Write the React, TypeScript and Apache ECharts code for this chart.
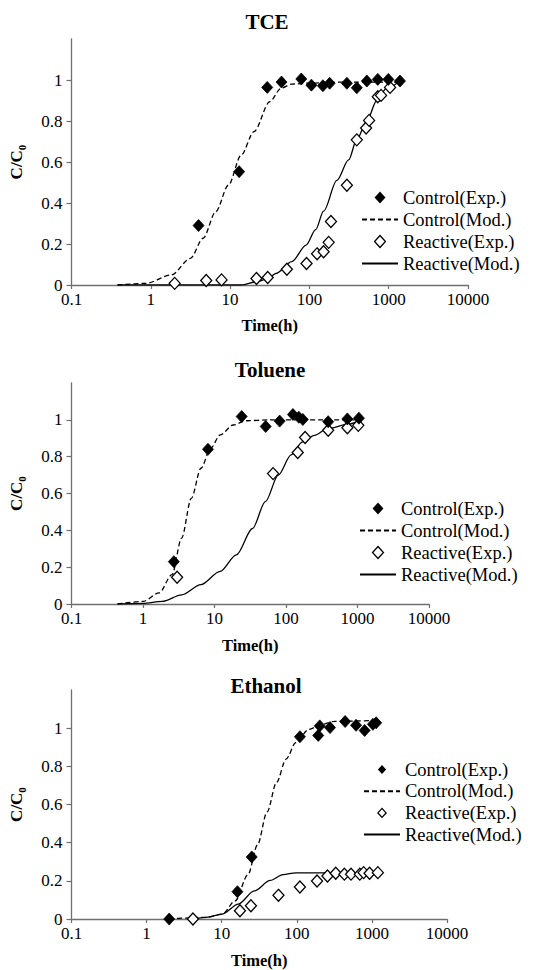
import React, { useEffect, useRef } from "react";
import * as echarts from "echarts";

// ---------- data ----------
const xTicks = [0.1, 1, 10, 100, 1000, 10000];
const yTicks = [0, 0.2, 0.4, 0.6, 0.8, 1];
const panelTitles = ["TCE", "Toluene", "Ethanol"];
const seriesNames = ["Control(Exp.)", "Control(Mod.)", "Reactive(Exp.)", "Reactive(Mod.)"];

// TCE
const tceCtrlExp = [[4.0, 0.29], [13, 0.553], [29.4, 0.964], [44.5, 0.99], [79, 1.005], [106, 0.975], [148, 0.972], [180, 0.984], [297, 0.984], [396, 0.962], [530, 0.995], [728, 1.003], [990, 1.003], [1387, 0.995]];
const tceCtrlMod = [[0.38, 0], [0.87, 0.008], [1.82, 0.049], [3.16, 0.13], [4.57, 0.228], [6.6, 0.358], [9.55, 0.488], [13.8, 0.634], [20, 0.748], [31.6, 0.894], [44, 0.96], [60, 0.98], [100, 0.985], [300, 0.99], [1400, 0.99]];
const tceReactExp = [[2.0, 0.008], [5.0, 0.022], [7.8, 0.025], [21.5, 0.032], [29.8, 0.037], [52, 0.077], [92, 0.105], [125, 0.152], [151, 0.162], [175, 0.208], [187, 0.31], [297, 0.487], [396, 0.708], [519, 0.766], [566, 0.803], [728, 0.918], [801, 0.925], [1040, 0.964]];
const tceReactMod = [[0.38, 0], [13.8, 0], [21.6, 0.016], [29.4, 0.03], [38, 0.057], [60, 0.114], [91, 0.195], [120, 0.27], [151, 0.36], [222, 0.51], [312, 0.61], [396, 0.71], [530, 0.8], [707, 0.9], [943, 0.96], [1387, 0.995]];

// Toluene
const tolCtrlExp = [[2.7, 0.23], [8.1, 0.84], [24, 1.018], [52, 0.964], [81.5, 0.993], [125, 1.029], [151, 1.014], [172, 1.002], [389, 0.99], [722, 1.005], [1047, 1.009]];
const tolCtrlMod = [[0.44, 0], [1, 0.014], [1.68, 0.06], [2.54, 0.159], [3.47, 0.358], [4.74, 0.574], [6.46, 0.737], [8.83, 0.845], [12, 0.918], [18.3, 0.972], [27.5, 0.995], [60, 1.0], [1047, 1.0]];
const tolReactExp = [[3.0, 0.145], [66, 0.708], [146, 0.823], [185, 0.904], [389, 0.943], [722, 0.957], [1026, 0.97]];
const tolReactMod = [[0.44, 0], [1, 0.003], [1.86, 0.014], [3.47, 0.05], [6.46, 0.105], [12, 0.177], [20.2, 0.267], [34, 0.41], [51.5, 0.556], [78, 0.7], [118, 0.81], [170, 0.88], [250, 0.916], [380, 0.952], [722, 0.975], [1047, 0.996]];

// Ethanol
const ethCtrlExp = [[2.0, 0], [16.2, 0.143], [25.1, 0.325], [110, 0.955], [193, 0.962], [202, 1.012], [277, 1.003], [440, 1.035], [615, 1.015], [800, 0.988], [1031, 1.02], [1140, 1.028]];
const ethCtrlMod = [[2, 0], [6.25, 0.009], [10.2, 0.026], [15.1, 0.095], [22.4, 0.233], [30, 0.389], [40.2, 0.561], [53.9, 0.717], [72, 0.838], [97, 0.924], [144, 0.993], [213, 1.019], [315, 1.036], [1150, 1.04]];
const ethReactExp = [[4.14, 0], [17.5, 0.043], [24.5, 0.069], [57, 0.124], [110, 0.168], [186, 0.199], [256, 0.225], [330, 0.24], [430, 0.235], [527, 0.235], [690, 0.235], [776, 0.243], [931, 0.24], [1200, 0.243]];
const ethReactMod = [[4.1, 0], [6.25, 0.009], [10.2, 0.026], [16.6, 0.078], [27.2, 0.147], [44.3, 0.202], [65.6, 0.233], [97, 0.242], [260, 0.242]];

const panelData = [
  [tceCtrlExp, tceCtrlMod, tceReactExp, tceReactMod],
  [tolCtrlExp, tolCtrlMod, tolReactExp, tolReactMod],
  [ethCtrlExp, ethCtrlMod, ethReactExp, ethReactMod],
];

// ---------- layout ----------
const FONT = "'Liberation Serif', 'DejaVu Serif', 'Times New Roman', serif";
const DIAMOND = "path://M0,-11L10,0L0,11L-10,0Z";
const grids = [
  { left: 71, top: 39, width: 397, height: 246 },
  { left: 69, top: 383, width: 360, height: 221 },
  { left: 70, top: 690, width: 377, height: 232 },
];
const titleCenters = [
  { x: 267, top: 11 },
  { x: 270, top: 359 },
  { x: 266, top: 675 },
];
const legendPos = [
  { left: 361, top: 188, gap: 3, diamond: 12 },
  { left: 359, top: 499, gap: 3, diamond: 12 },
  { left: 363, top: 760, gap: 2.7, diamond: 9 },
];
const xNameGaps = [32, 33, 33];
const AXIS_COLOR = "#6f6f6f";

export default function App() {
  const ref = useRef<HTMLDivElement>(null);
  useEffect(() => {
    document.body.style.margin = "0";
    const chart = echarts.init(ref.current!, null, { renderer: "svg" });

    const xAxis: any[] = [];
    const yAxis: any[] = [];
    const series: any[] = [];
    const title: any[] = [];
    const legend: any[] = [];

    grids.forEach((g, i) => {
      title.push({
        text: panelTitles[i],
        left: titleCenters[i].x,
        top: titleCenters[i].top,
        textAlign: "center",
        padding: 0,
        textStyle: { fontFamily: FONT, fontWeight: "bold", fontSize: 21, color: "#000" },
      });
      xAxis.push({
        type: "log",
        logBase: 10,
        gridIndex: i,
        min: xTicks[0],
        max: xTicks[xTicks.length - 1],
        name: "Time(h)",
        nameLocation: "middle",
        nameGap: xNameGaps[i],
        nameTextStyle: { fontFamily: FONT, fontWeight: "bold", fontSize: 16.5, color: "#000" },
        axisLine: { show: true, lineStyle: { color: AXIS_COLOR, width: 1.3 } },
        axisTick: { show: true, length: 4, inside: false, lineStyle: { color: AXIS_COLOR, width: 1.2 } },
        minorTick: { show: false },
        splitLine: { show: false },
        axisLabel: {
          fontFamily: FONT,
          fontWeight: "normal",
          fontSize: 17,
          color: "#000",
          margin: 6,
          formatter: (v: number) => String(+Number(v).toPrecision(6)),
        },
      });
      yAxis.push({
        type: "value",
        gridIndex: i,
        min: 0,
        max: 1.2,
        interval: 0.2,
        name: "{a|C/C}{b|0}",
        nameLocation: "middle",
        nameRotate: 90,
        nameGap: 44,
        nameTextStyle: {
          fontFamily: FONT,
          rich: {
            a: { fontFamily: FONT, fontWeight: "bold", fontSize: 17, color: "#000", lineHeight: 22 },
            b: { fontFamily: FONT, fontWeight: "bold", fontSize: 11, color: "#000", lineHeight: 12, verticalAlign: "bottom" },
          },
        },
        axisLine: { show: true, lineStyle: { color: AXIS_COLOR, width: 1.3 } },
        axisTick: { show: true, length: 5, customValues: yTicks, lineStyle: { color: AXIS_COLOR, width: 1.2 } },
        splitLine: { show: false },
        axisLabel: {
          fontFamily: FONT,
          fontWeight: "normal",
          fontSize: 17,
          color: "#000",
          margin: 9,
          customValues: yTicks,
          formatter: (v: number) => (v > 1.05 ? "" : String(+Number(v).toFixed(1))),
        },
      });
      const d = panelData[i];
      series.push(
        {
          type: "line",
          name: seriesNames[1],
          xAxisIndex: i,
          yAxisIndex: i,
          data: d[1],
          smooth: 0.3,
          smoothMonotone: "x",
          symbol: "none",
          lineStyle: { color: "#000", width: 1.3, type: [5, 3] },
          itemStyle: { color: "#000" },
          z: 2,
        },
        {
          type: "line",
          name: seriesNames[3],
          xAxisIndex: i,
          yAxisIndex: i,
          data: d[3],
          smooth: 0.3,
          smoothMonotone: "x",
          symbol: "none",
          lineStyle: { color: "#000", width: 1.3, type: "solid" },
          itemStyle: { color: "#000" },
          z: 2,
        },
        {
          type: "scatter",
          name: seriesNames[0],
          xAxisIndex: i,
          yAxisIndex: i,
          data: d[0],
          symbol: "diamond",
          symbolSize: [11, 12],
          itemStyle: { color: "#000", borderColor: "#000", borderWidth: 0.8, opacity: 1 },
          z: 4,
        },
        {
          type: "scatter",
          name: seriesNames[2],
          xAxisIndex: i,
          yAxisIndex: i,
          data: d[2],
          symbol: "diamond",
          symbolSize: [11, 12],
          itemStyle: { color: "#fff", borderColor: "#000", borderWidth: 1.3, opacity: 1 },
          z: 3,
        }
      );
      const lp = legendPos[i];
      legend.push({
        orient: "vertical",
        left: lp.left,
        top: lp.top,
        padding: 0,
        itemGap: lp.gap,
        itemWidth: 36,
        itemHeight: lp.diamond,
        symbolKeepAspect: true,
        selectedMode: false,
        data: seriesNames.map((n, k) =>
          k === 0
            ? { name: n, icon: DIAMOND, itemStyle: { color: "#000", borderColor: "#000", borderWidth: 0 } }
            : k === 2
            ? { name: n, icon: DIAMOND, itemStyle: { color: "#fff", borderColor: "#000", borderWidth: 1.3 } }
            : { name: n, itemStyle: { color: "rgba(0,0,0,0)", borderColor: "rgba(0,0,0,0)", borderWidth: 0, opacity: 0 } }
        ),
        textStyle: { fontFamily: FONT, fontWeight: "normal", fontSize: 18.5, color: "#000", lineHeight: 16 },
      });
    });

    chart.setOption({
      animation: false,
      backgroundColor: "#fff",
      textStyle: { fontFamily: FONT },
      title,
      grid: grids.map((g) => ({ ...g, containLabel: false })),
      xAxis,
      yAxis,
      legend,
      series,
    });
    return () => chart.dispose();
  }, []);
  return <div ref={ref} style={{ width: 542, height: 970 }} />;
}
